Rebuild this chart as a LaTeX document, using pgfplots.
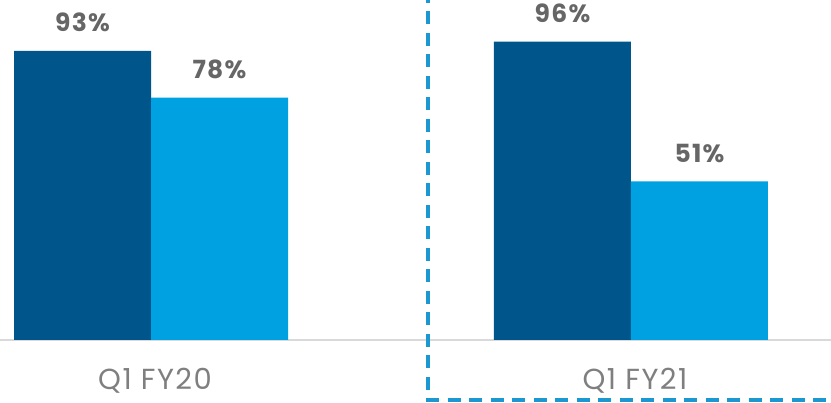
\documentclass[border=0pt]{standalone}
\usepackage{pgfplots}
\pgfplotsset{compat=1.18}
\usepackage{fontspec}
\setmainfont{Poppins}
\newfontfamily\tickfont[LetterSpace=5]{Poppins}
\newfontfamily\lblfont[LetterSpace=5]{Poppins}
\definecolor{darkb}{HTML}{00568A}
\definecolor{lightb}{HTML}{00A1E0}
\definecolor{dashb}{HTML}{1B98CF}
\definecolor{lblgray}{HTML}{666666}
\definecolor{tickgray}{HTML}{7F7F7F}
\definecolor{basegray}{HTML}{D9D9D9}
\begin{document}
\begin{tikzpicture}
\begin{axis}[
  at={(0,0)}, anchor=south west,
  scale only axis, width=831pt, height=340pt,
  xmin=-0.3146, xmax=1.4167, ymin=0, ymax=109.4,
  ybar, bar width=137pt,
  axis y line=none, axis x line*=bottom,
  x axis line style={draw=basegray, line width=1.5pt},
  xtick={0,1}, xticklabels={Q1 FY20, Q1 FY21},
  major tick length=0pt,
  xticklabel style={font=\tickfont\fontsize{29}{34}\selectfont, text=tickgray, anchor=base, yshift=-50pt, xshift=4pt},
  nodes near coords={\pgfmathprintnumber[fixed,precision=0,assume math mode=true]{\pgfplotspointmeta}\%},
  nodes near coords style={font=\lblfont\fontsize{25}{30}\selectfont\bfseries, text=lblgray, anchor=base, yshift=19pt},
  clip=false,
]
\addplot[fill=darkb, draw=none, bar shift=-68.5pt] coordinates {(0,93) (1,96)};
\addplot[fill=lightb, draw=none, bar shift=68.5pt] coordinates {(0,78) (1,51)};
\end{axis}
\draw[dashb, line width=4pt, dash pattern=on 13pt off 8.5pt] (427.5pt,350pt) -- (427.5pt,-60pt) -- (845pt,-60pt);
\pgfresetboundingbox
\path[use as bounding box] (0,-63pt) rectangle (831pt,340pt);
\end{tikzpicture}
\end{document}
